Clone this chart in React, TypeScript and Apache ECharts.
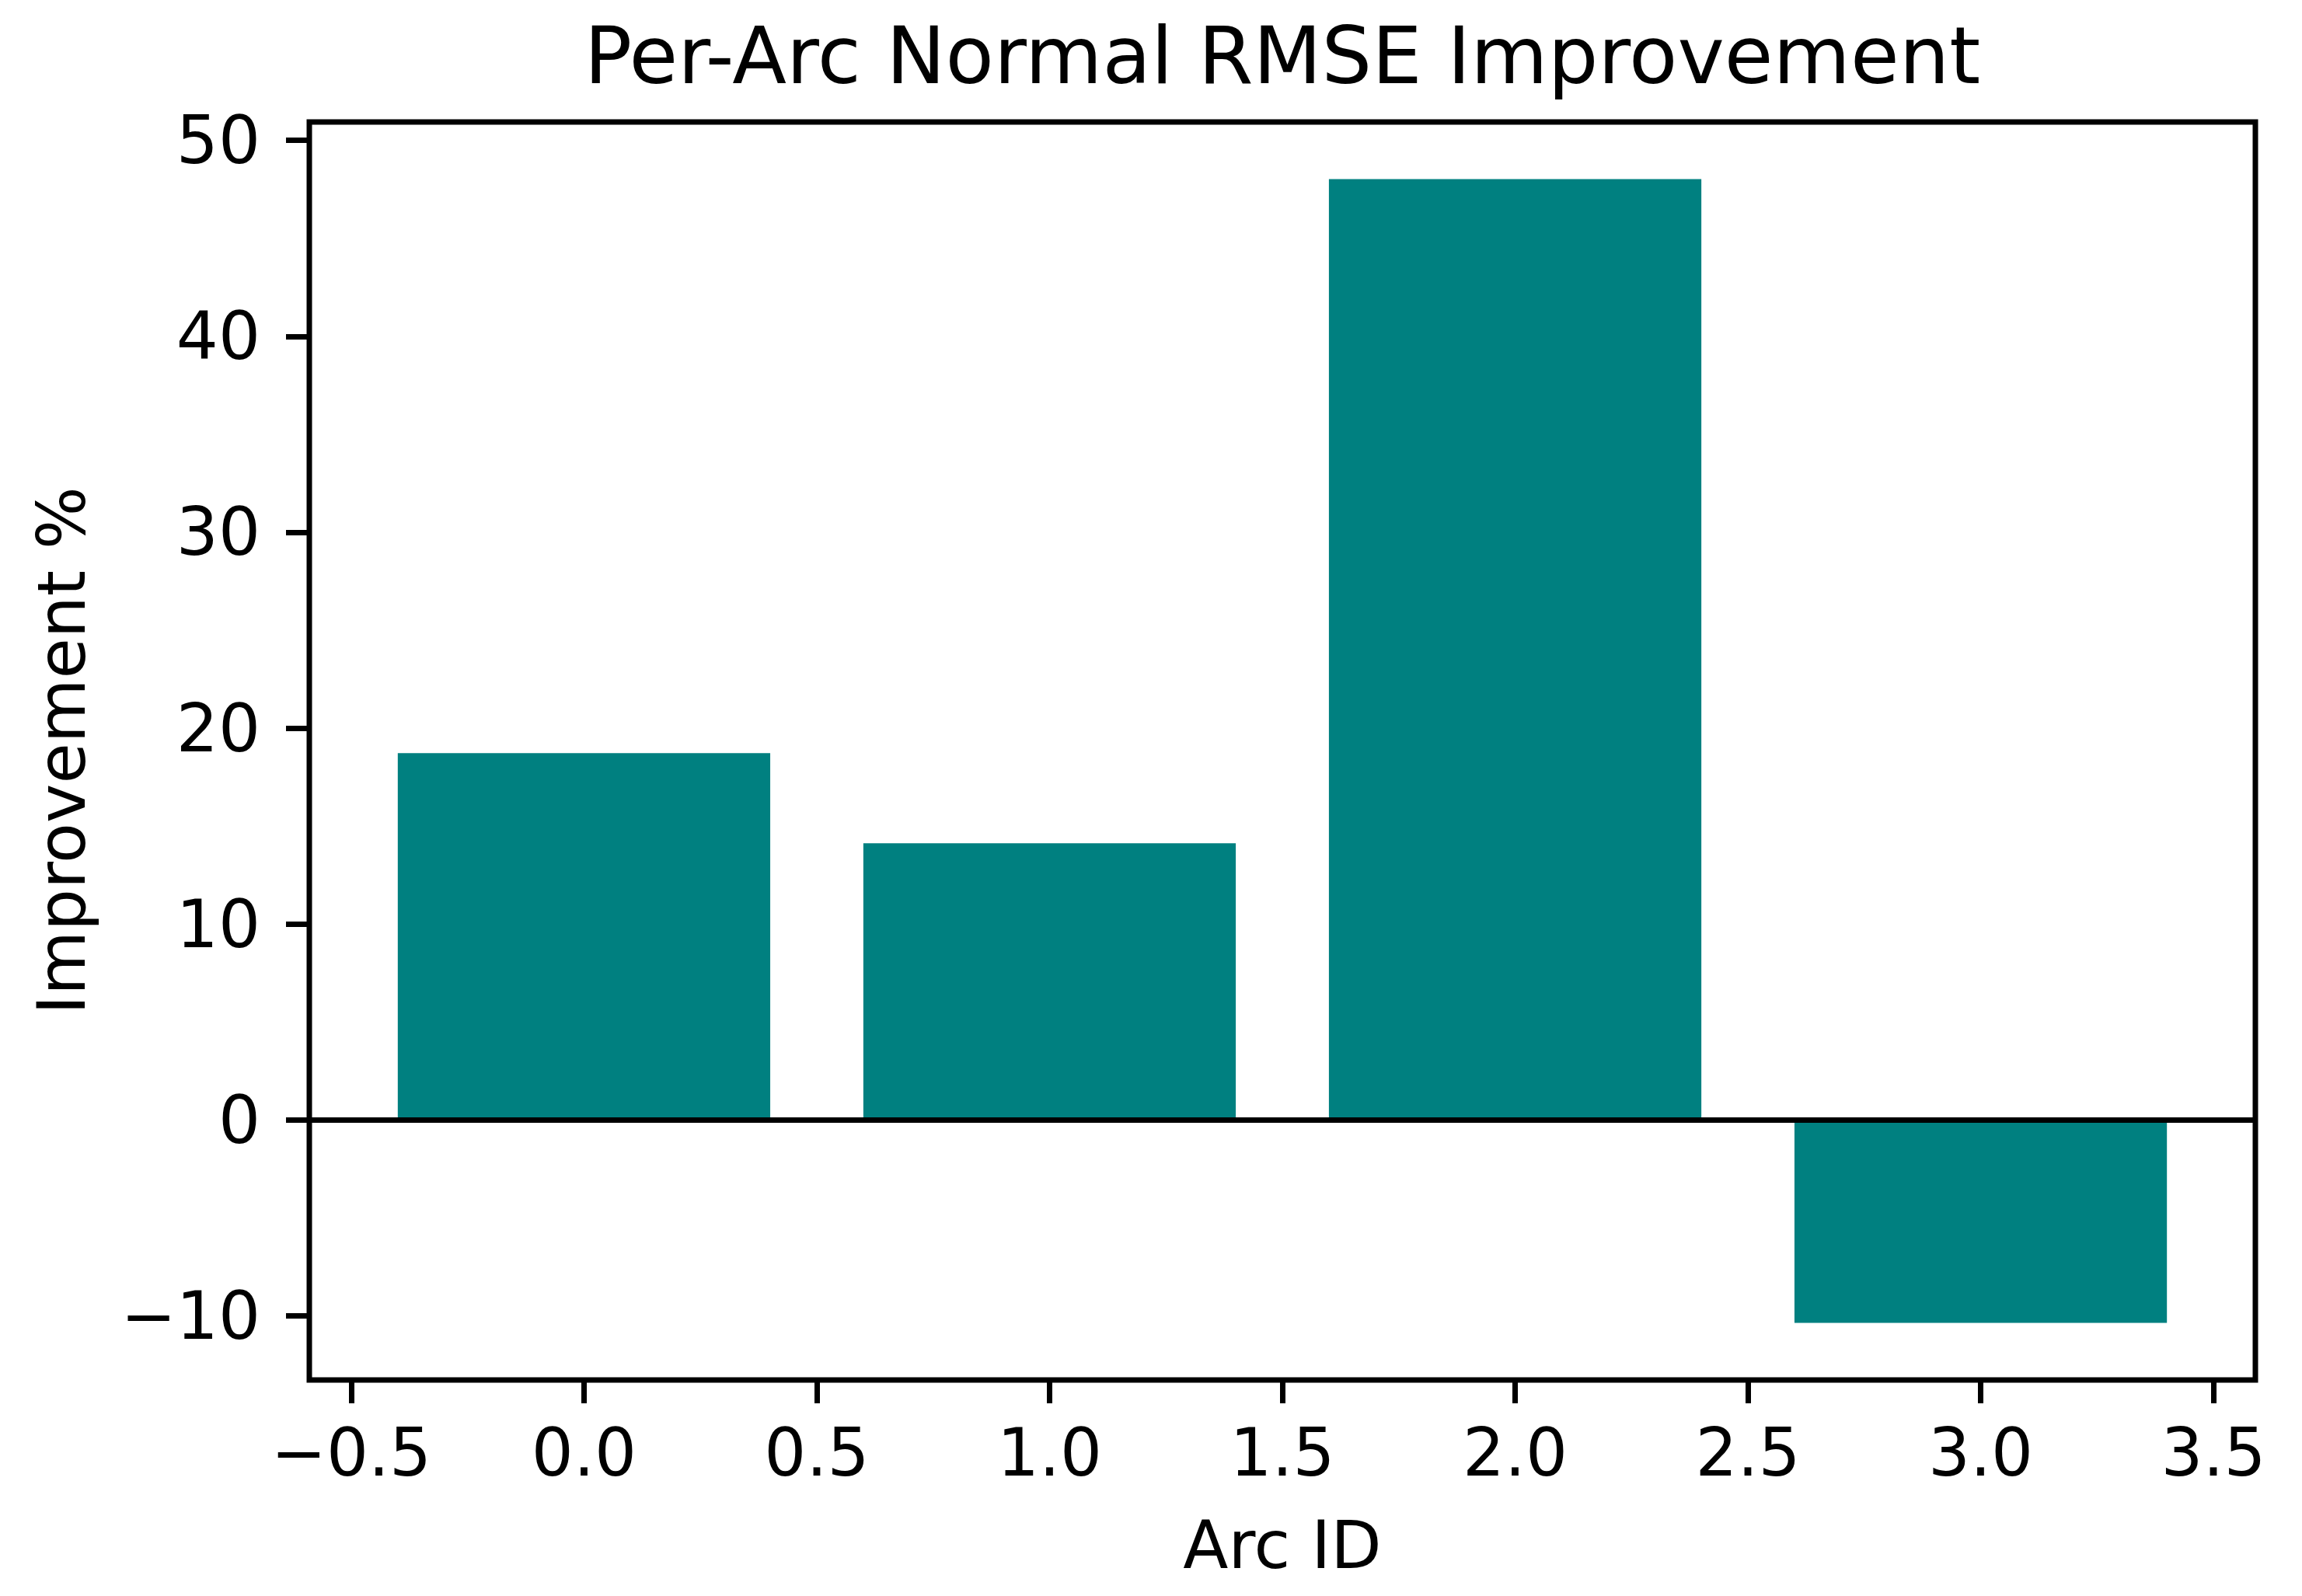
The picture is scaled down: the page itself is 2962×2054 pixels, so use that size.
import React, { useEffect, useRef } from "react";
import * as echarts from "echarts";

const arcIds = [0, 1, 2, 3];
const improvements = [18.73, 14.13, 48.02, -10.35];
const xTicks = [-0.5, 0, 0.5, 1, 1.5, 2, 2.5, 3, 3.5];
const yTicks = [-10, 0, 10, 20, 30, 40, 50];
const titleText = "Per-Arc Normal RMSE Improvement";
const xLabel = "Arc ID";
const yLabel = "Improvement %";

const FONT = "DejaVu Sans";
const W = 2962;
const H = 2054;
const TICK_FS = 85;
const LABEL_FS = 85;

const minus = (s: string) => s.replace("-", "\u2212");

export default function App() {
  const ref = useRef<HTMLDivElement>(null);
  useEffect(() => {
    if (!ref.current) return;
    const chart = echarts.init(ref.current, undefined, { renderer: "svg" });
    // axis limits with matplotlib's 5% margins
    const barHalf = 0.4;
    const xMinData = Math.min(...arcIds) - barHalf;
    const xMaxData = Math.max(...arcIds) + barHalf;
    const xPad = (xMaxData - xMinData) * 0.05;
    const yMinData = Math.min(0, ...improvements);
    const yMaxData = Math.max(0, ...improvements);
    const yPad = (yMaxData - yMinData) * 0.05;

    const option: any = {
      animation: false,
      backgroundColor: "#ffffff",
      grid: {
        left: 398,
        right: W - 2902,
        top: 157,
        bottom: H - 1776,
        show: true,
        borderColor: "#000000",
        borderWidth: 7,
        backgroundColor: "transparent",
        containLabel: false,
        outerBoundsMode: "none",
      },
      xAxis: {
        type: "value",
        min: xMinData - xPad,
        max: xMaxData + xPad,
        axisLine: { show: false, onZero: false },
        splitLine: { show: false },
        axisTick: {
          show: true,
          customValues: xTicks,
          length: 30,
          lineStyle: { color: "#000000", width: 7 },
        },
        axisLabel: {
          show: true,
          customValues: xTicks,
          margin: 51,
          fontSize: TICK_FS,
          fontFamily: FONT,
          color: "#000000",
          formatter: (v: number) => minus(v.toFixed(1)),
        },
      },
      yAxis: {
        type: "value",
        min: yMinData - yPad,
        max: yMaxData + yPad,
        axisLine: { show: false, onZero: false },
        splitLine: { show: false },
        axisTick: {
          show: true,
          customValues: yTicks,
          length: 30,
          lineStyle: { color: "#000000", width: 7 },
        },
        axisLabel: {
          show: true,
          customValues: yTicks,
          margin: 63,
          fontSize: TICK_FS,
          fontFamily: FONT,
          color: "#000000",
          formatter: (v: number) => minus(String(Math.round(v))),
        },
      },
      series: [
        {
          type: "bar",
          data: arcIds.map((x, i) => [x, improvements[i]]),
          barWidth: "80%",
          itemStyle: { color: "#008080" },
          markLine: {
            silent: true,
            symbol: ["none", "none"],
            label: { show: false },
            lineStyle: { color: "#000000", width: 7, type: "solid" },
            data: [{ yAxis: 0 }],
          },
        },
      ],
      graphic: [
        {
          type: "text",
          x: 1650,
          y: 71,
          style: {
            text: titleText,
            fontSize: 102,
            fontFamily: FONT,
            fill: "#000000",
            align: "center",
            verticalAlign: "middle",
            textAlign: "center",
            textVerticalAlign: "middle",
          },
        },
        {
          type: "text",
          x: 1650,
          y: 1988,
          style: {
            text: xLabel,
            fontSize: LABEL_FS,
            fontFamily: FONT,
            fill: "#000000",
            align: "center",
            verticalAlign: "middle",
            textAlign: "center",
            textVerticalAlign: "middle",
          },
        },
        {
          type: "text",
          x: 79,
          y: 966,
          rotation: Math.PI / 2,
          style: {
            text: yLabel,
            fontSize: LABEL_FS,
            fontFamily: FONT,
            fill: "#000000",
            align: "center",
            verticalAlign: "middle",
            textAlign: "center",
            textVerticalAlign: "middle",
          },
        },
      ],
    };
    chart.setOption(option);
    return () => chart.dispose();
  }, []);
  return (
    <div
      ref={ref}
      style={{ position: "absolute", left: 0, top: 0, width: W, height: H }}
    />
  );
}
